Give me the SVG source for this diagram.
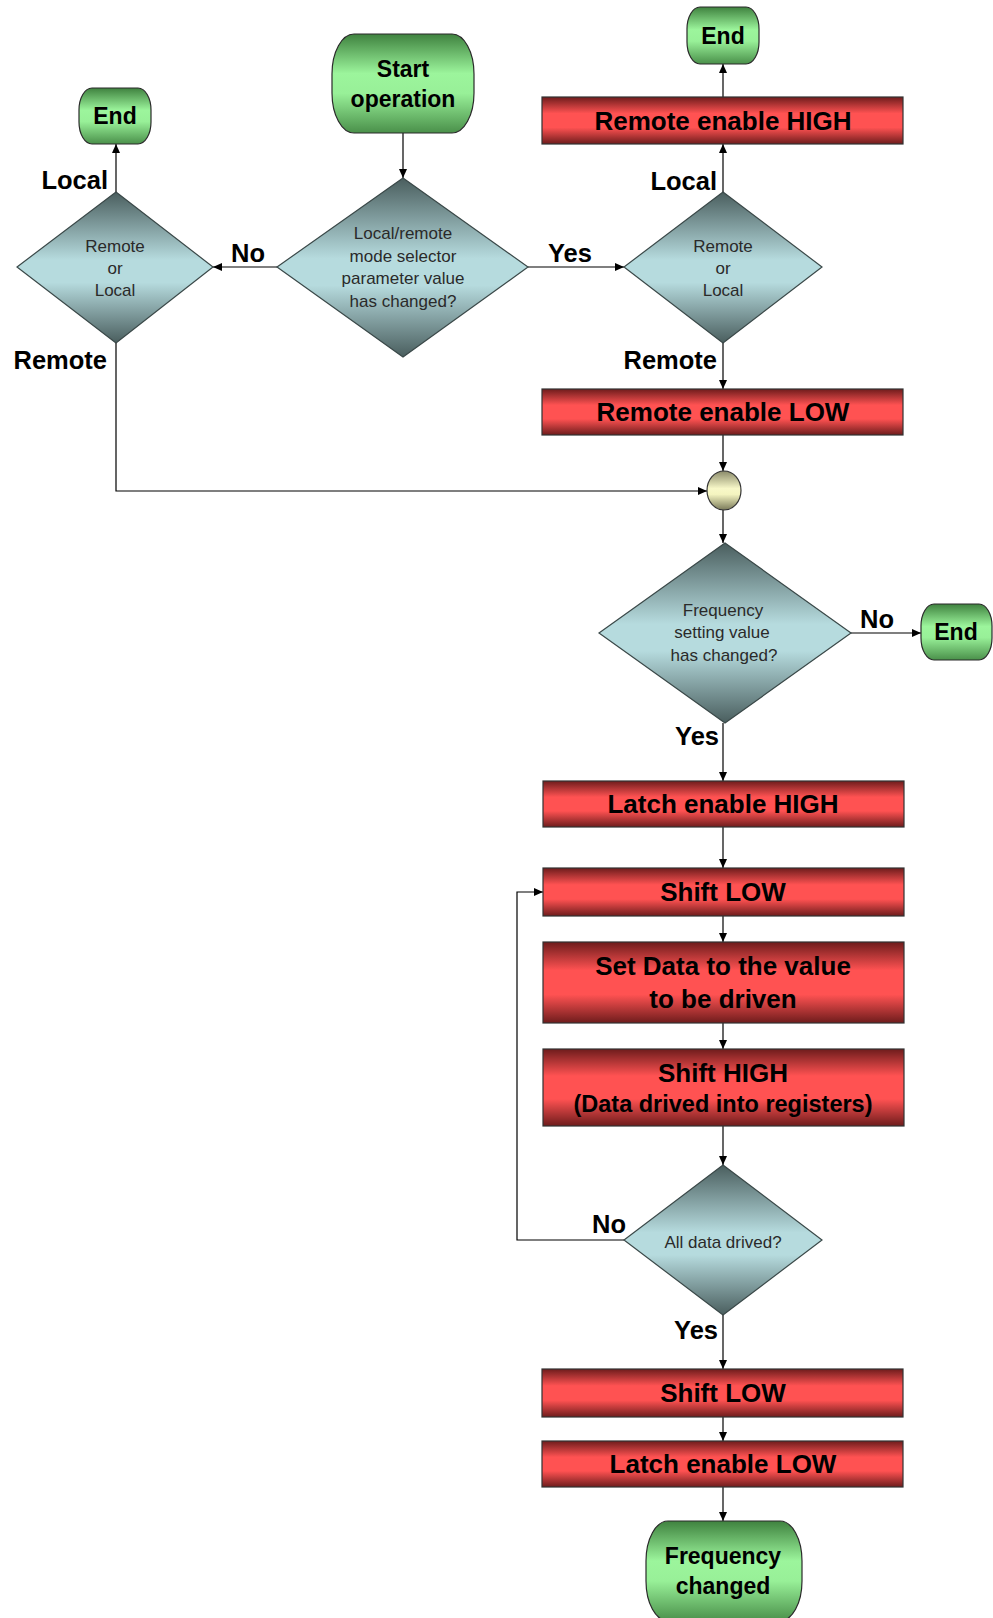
<svg xmlns="http://www.w3.org/2000/svg" width="993" height="1618" viewBox="0 0 993 1618">
  <defs>
    <linearGradient id="gTerm" x1="0" y1="0" x2="0" y2="1">
      <stop offset="0" stop-color="#3f823f"/>
      <stop offset="0.4" stop-color="#9cf59c"/>
      <stop offset="0.6" stop-color="#98f098"/>
      <stop offset="1" stop-color="#4a904a"/>
    </linearGradient>
    <linearGradient id="gProc" x1="0" y1="0" x2="0" y2="1">
      <stop offset="0" stop-color="#6e1c1c"/>
      <stop offset="0.35" stop-color="#ff5252"/>
      <stop offset="0.65" stop-color="#ff5252"/>
      <stop offset="1" stop-color="#6e1c1c"/>
    </linearGradient>
    <linearGradient id="gDec" x1="0" y1="0" x2="0" y2="1">
      <stop offset="0" stop-color="#4a5e5e"/>
      <stop offset="0.45" stop-color="#b6dbde"/>
      <stop offset="0.6" stop-color="#b6dbde"/>
      <stop offset="1" stop-color="#4a5e5e"/>
    </linearGradient>
    <linearGradient id="gJoin" x1="0" y1="0" x2="0" y2="1">
      <stop offset="0" stop-color="#8a8a6a"/>
      <stop offset="0.45" stop-color="#f8f8c8"/>
      <stop offset="0.6" stop-color="#f4f4c0"/>
      <stop offset="1" stop-color="#7a7a5a"/>
    </linearGradient>
    <marker id="arr" markerUnits="userSpaceOnUse" markerWidth="9" markerHeight="8" refX="9" refY="4" orient="auto">
      <path d="M0,0 L9,4 L0,8 z" fill="#000"/>
    </marker>
  </defs>
  <style>
    .term { fill: url(#gTerm); stroke: #2a2a2a; stroke-width: 1.2; }
    .proc { fill: url(#gProc); stroke: #333; stroke-width: 1.2; }
    .dec { fill: url(#gDec); stroke: #3a4848; stroke-width: 1.2; }
    .join { fill: url(#gJoin); stroke: #333; stroke-width: 1.2; }
    .tb { font-family: "Liberation Sans", Arial, sans-serif; font-weight: bold; font-size: 23px; fill: #000; text-anchor: middle; }
    .pb { font-family: "Liberation Sans", Arial, sans-serif; font-weight: bold; font-size: 26px; fill: #000; text-anchor: middle; }
    .ps { font-family: "Liberation Sans", Arial, sans-serif; font-weight: bold; font-size: 23.5px; fill: #000; text-anchor: middle; }
    .dt { font-family: "Liberation Sans", Arial, sans-serif; font-size: 17px; fill: #2a2a2a; text-anchor: middle; }
    .lb { font-family: "Liberation Sans", Arial, sans-serif; font-weight: bold; font-size: 25.5px; fill: #000; }
    .end { text-anchor: end; }
    .conn { fill: none; stroke: #000; stroke-width: 1.2; }
  </style>

  <rect x="0" y="0" width="993" height="1618" fill="#fff"/>

  <!-- connectors -->
  <g id="connectors">
    <path class="conn" d="M403,133 V178" marker-end="url(#arr)"/>
    <path class="conn" d="M277,267 H213" marker-end="url(#arr)"/>
    <path class="conn" d="M528,267 H624" marker-end="url(#arr)"/>
    <path class="conn" d="M116,192 V144" marker-end="url(#arr)"/>
    <path class="conn" d="M116,343 V491 H707" marker-end="url(#arr)"/>
    <path class="conn" d="M723,192 V144" marker-end="url(#arr)"/>
    <path class="conn" d="M723,97 V64" marker-end="url(#arr)"/>
    <path class="conn" d="M723,343 V389" marker-end="url(#arr)"/>
    <path class="conn" d="M723,435 V471" marker-end="url(#arr)"/>
    <path class="conn" d="M723,510 V543" marker-end="url(#arr)"/>
    <path class="conn" d="M851,633 H921" marker-end="url(#arr)"/>
    <path class="conn" d="M723,723 V781" marker-end="url(#arr)"/>
    <path class="conn" d="M723,827 V868" marker-end="url(#arr)"/>
    <path class="conn" d="M723,916 V942" marker-end="url(#arr)"/>
    <path class="conn" d="M723,1023 V1049" marker-end="url(#arr)"/>
    <path class="conn" d="M723,1126 V1165" marker-end="url(#arr)"/>
    <path class="conn" d="M624,1240 H517 V892 H543" marker-end="url(#arr)"/>
    <path class="conn" d="M723,1315 V1369" marker-end="url(#arr)"/>
    <path class="conn" d="M723,1417 V1441" marker-end="url(#arr)"/>
    <path class="conn" d="M723,1487 V1521" marker-end="url(#arr)"/>

    <!-- branch labels -->
    <text class="lb" x="231" y="262">No</text>
    <text class="lb" x="548" y="262">Yes</text>
    <text class="lb end" x="108" y="189">Local</text>
    <text class="lb end" x="107" y="369">Remote</text>
    <text class="lb end" x="717" y="190">Local</text>
    <text class="lb end" x="717" y="369">Remote</text>
    <text class="lb" x="860" y="628">No</text>
    <text class="lb end" x="719" y="745">Yes</text>
    <text class="lb" x="592" y="1233">No</text>
    <text class="lb end" x="718" y="1339">Yes</text>
  </g>

  <!-- start -->
  <g id="start">
    <rect class="term" x="332" y="34" width="142" height="99" rx="22" ry="40"/>
    <text class="tb" x="403" y="77">Start</text>
    <text class="tb" x="403" y="107">operation</text>
  </g>

  <!-- mode changed? -->
  <g id="mode-changed">
    <polygon class="dec" points="403,178 528,267 403,357 277,267"/>
    <text class="dt" x="403" y="239">Local/remote</text>
    <text class="dt" x="403" y="262">mode selector</text>
    <text class="dt" x="403" y="284">parameter value</text>
    <text class="dt" x="403" y="307">has changed?</text>
  </g>

  <!-- left branch -->
  <g id="mode-left">
    <polygon class="dec" points="116,192 213,267 116,343 17,267"/>
    <text class="dt" x="115" y="252">Remote</text>
    <text class="dt" x="115" y="274">or</text>
    <text class="dt" x="115" y="296">Local</text>
  </g>
  <g id="end-left">
    <rect class="term" x="79" y="88" width="72" height="56" rx="13" ry="22"/>
    <text class="tb" x="115" y="124">End</text>
  </g>

  <!-- right branch -->
  <g id="mode-right">
    <polygon class="dec" points="723,192 822,267 723,343 624,267"/>
    <text class="dt" x="723" y="252">Remote</text>
    <text class="dt" x="723" y="274">or</text>
    <text class="dt" x="723" y="296">Local</text>
  </g>
  <g id="remote-high">
    <rect class="proc" x="542" y="97" width="361" height="47"/>
    <text class="pb" x="723" y="130">Remote enable HIGH</text>
  </g>
  <g id="end-top">
    <rect class="term" x="687" y="7" width="72" height="57" rx="13" ry="22"/>
    <text class="tb" x="723" y="44">End</text>
  </g>
  <g id="remote-low">
    <rect class="proc" x="542" y="389" width="361" height="46"/>
    <text class="pb" x="723" y="421">Remote enable LOW</text>
  </g>

  <!-- merge point -->
  <g id="merge">
    <ellipse class="join" cx="724" cy="490.5" rx="17" ry="19.5"/>
  </g>

  <!-- frequency changed? -->
  <g id="freq-changed">
    <polygon class="dec" points="725,543 851,633 725,723 599,633"/>
    <text class="dt" x="723" y="616">Frequency</text>
    <text class="dt" x="722" y="638">setting value</text>
    <text class="dt" x="724" y="661">has changed?</text>
  </g>
  <g id="end-right">
    <rect class="term" x="921" y="604" width="71" height="56" rx="13" ry="22"/>
    <text class="tb" x="956" y="640">End</text>
  </g>

  <!-- shift sequence -->
  <g id="latch-high">
    <rect class="proc" x="543" y="781" width="361" height="46"/>
    <text class="pb" x="723" y="813">Latch enable HIGH</text>
  </g>
  <g id="shift-low">
    <rect class="proc" x="543" y="868" width="361" height="48"/>
    <text class="pb" x="723" y="901">Shift LOW</text>
  </g>
  <g id="set-data">
    <rect class="proc" x="543" y="942" width="361" height="81"/>
    <text class="pb" x="723" y="975">Set Data to the value</text>
    <text class="pb" x="723" y="1008">to be driven</text>
  </g>
  <g id="shift-high">
    <rect class="proc" x="543" y="1049" width="361" height="77"/>
    <text class="pb" x="723" y="1082">Shift HIGH</text>
    <text class="ps" x="723" y="1112">(Data drived into registers)</text>
  </g>
  <g id="all-driven">
    <polygon class="dec" points="723,1165 822,1240 723,1315 624,1240"/>
    <text class="dt" x="723" y="1248">All data drived?</text>
  </g>
  <g id="shift-low-2">
    <rect class="proc" x="542" y="1369" width="361" height="48"/>
    <text class="pb" x="723" y="1402">Shift LOW</text>
  </g>
  <g id="latch-low">
    <rect class="proc" x="542" y="1441" width="361" height="46"/>
    <text class="pb" x="723" y="1473">Latch enable LOW</text>
  </g>
  <g id="freq-done">
    <rect class="term" x="646" y="1521" width="156" height="100" rx="22" ry="40"/>
    <text class="tb" x="723" y="1564">Frequency</text>
    <text class="tb" x="723" y="1594">changed</text>
  </g>
</svg>
